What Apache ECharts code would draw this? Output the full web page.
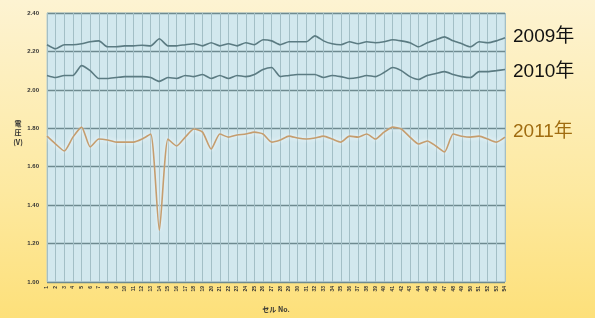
<!DOCTYPE html>
<html>
<head>
<meta charset="utf-8">
<script src="https://cdn.jsdelivr.net/npm/echarts@6/dist/echarts.min.js"></script>
<style>
html, body { margin: 0; padding: 0; }
body { background: linear-gradient(180deg, #fdf3d2 0%, #fde9a0 60%, #fde07a 100%); }
#main { width: 595px; height: 318px; }
</style>
</head>
<body>
<div id="main"></div>
<script>
// セル番号 1..54
var cells = [];
for (var i = 1; i <= 54; i++) cells.push(String(i));

var v2009 = [2.235, 2.214, 2.235, 2.235, 2.240, 2.250, 2.255, 2.224, 2.224, 2.229,
    2.229, 2.232, 2.229, 2.266, 2.229, 2.229, 2.235, 2.240, 2.229, 2.245,
    2.229, 2.240, 2.229, 2.245, 2.235, 2.261, 2.255, 2.235, 2.250, 2.250,
    2.250, 2.281, 2.255, 2.240, 2.235, 2.250, 2.240, 2.250, 2.245, 2.250,
    2.261, 2.255, 2.245, 2.224, 2.245, 2.261, 2.276, 2.255, 2.240, 2.224,
    2.250, 2.245, 2.255, 2.271];

var v2010 = [2.075, 2.064, 2.075, 2.075, 2.126, 2.100, 2.059, 2.059, 2.064, 2.069,
    2.069, 2.069, 2.064, 2.044, 2.064, 2.059, 2.075, 2.069, 2.080, 2.059,
    2.075, 2.059, 2.075, 2.069, 2.080, 2.106, 2.116, 2.069, 2.075, 2.080,
    2.080, 2.080, 2.064, 2.075, 2.069, 2.059, 2.064, 2.075, 2.069, 2.090,
    2.116, 2.100, 2.069, 2.054, 2.075, 2.085, 2.095, 2.080, 2.069, 2.064,
    2.095, 2.095, 2.100, 2.106];

var v2011 = [1.759, 1.718, 1.682, 1.754, 1.806, 1.703, 1.744, 1.739, 1.728, 1.728,
    1.728, 1.744, 1.770, 1.269, 1.744, 1.708, 1.754, 1.796, 1.780, 1.692,
    1.770, 1.754, 1.765, 1.770, 1.780, 1.770, 1.728, 1.739, 1.759, 1.749,
    1.744, 1.749, 1.759, 1.744, 1.728, 1.759, 1.754, 1.770, 1.744, 1.780,
    1.806, 1.796, 1.754, 1.718, 1.734, 1.708, 1.677, 1.770, 1.759, 1.754,
    1.759, 1.744, 1.728, 1.754];

var myChart = echarts.init(document.getElementById("main"));

function yearLine(name, data, color, labelColor, offY, glow) {
    return {
        name: name,
        type: 'line',
        data: data,
        symbol: 'none',
        smooth: 0.2,
        lineStyle: {
            color: color,
            width: 1.6,
            shadowColor: glow ? 'rgba(255,255,255,0.9)' : 'rgba(0,0,0,0)',
            shadowBlur: glow ? 4 : 0
        },
        endLabel: {
            show: true,
            formatter: '{a}',
            distance: 8,
            offset: [0, offY],
            fontSize: 19,
            fontFamily: 'Liberation Sans, Noto Sans CJK JP',
            color: labelColor
        }
    };
}

// 縦軸名（縦書き）
function nameText(t, y) {
    return {
        type: 'text',
        x: 18,
        y: y,
        style: {
            text: t,
            fontSize: 7,
            fontWeight: 'bold',
            align: 'center',
            verticalAlign: 'middle',
            fill: '#333',
            fontFamily: 'Noto Sans CJK JP'
        }
    };
}

option = {
    backgroundColor: 'transparent',
    animation: false,
    grid: {
        left: 47,
        right: 90,
        top: 13,
        bottom: 34,
        show: true,
        backgroundColor: '#d2e8ee',
        borderColor: '#b9cfd3',
        borderWidth: 1
    },
    xAxis: {
        type: 'category',
        data: cells,
        boundaryGap: false,
        name: 'セル No.',
        nameLocation: 'middle',
        nameGap: 24,
        nameTextStyle: { fontSize: 7, fontWeight: 'bold', color: '#333', fontFamily: 'Noto Sans CJK JP' },
        axisLine: { show: false },
        axisTick: { show: false },
        axisLabel: {
            interval: 0,
            rotate: 90,
            fontSize: 5,
            fontWeight: 'bold',
            color: '#333',
            margin: 4
        },
        splitLine: {
            show: true,
            interval: 0,
            lineStyle: { color: '#a3bfc6', width: 1 }
        }
    },
    yAxis: {
        type: 'value',
        min: 1.0,
        max: 2.4,
        interval: 0.2,
        axisLine: { show: false },
        axisTick: { show: false },
        axisLabel: {
            fontSize: 6,
            fontWeight: 'bold',
            color: '#333',
            margin: 8,
            formatter: function (v) { return v.toFixed(2); }
        },
        splitLine: {
            lineStyle: { color: '#6e8a90', width: 1.3 }
        }
    },
    graphic: [
        nameText('電', 123),
        nameText('圧', 132),
        nameText('(V)', 142)
    ],
    series: [
        yearLine('2009年', v2009, '#5b7b82', '#111', -1, false),
        yearLine('2010年', v2010, '#5b7b82', '#111', 2, false),
        yearLine('2011年', v2011, '#c59d6e', '#a06c10', -5, true)
    ]
};

myChart.setOption(option);
</script>
</body>
</html>
